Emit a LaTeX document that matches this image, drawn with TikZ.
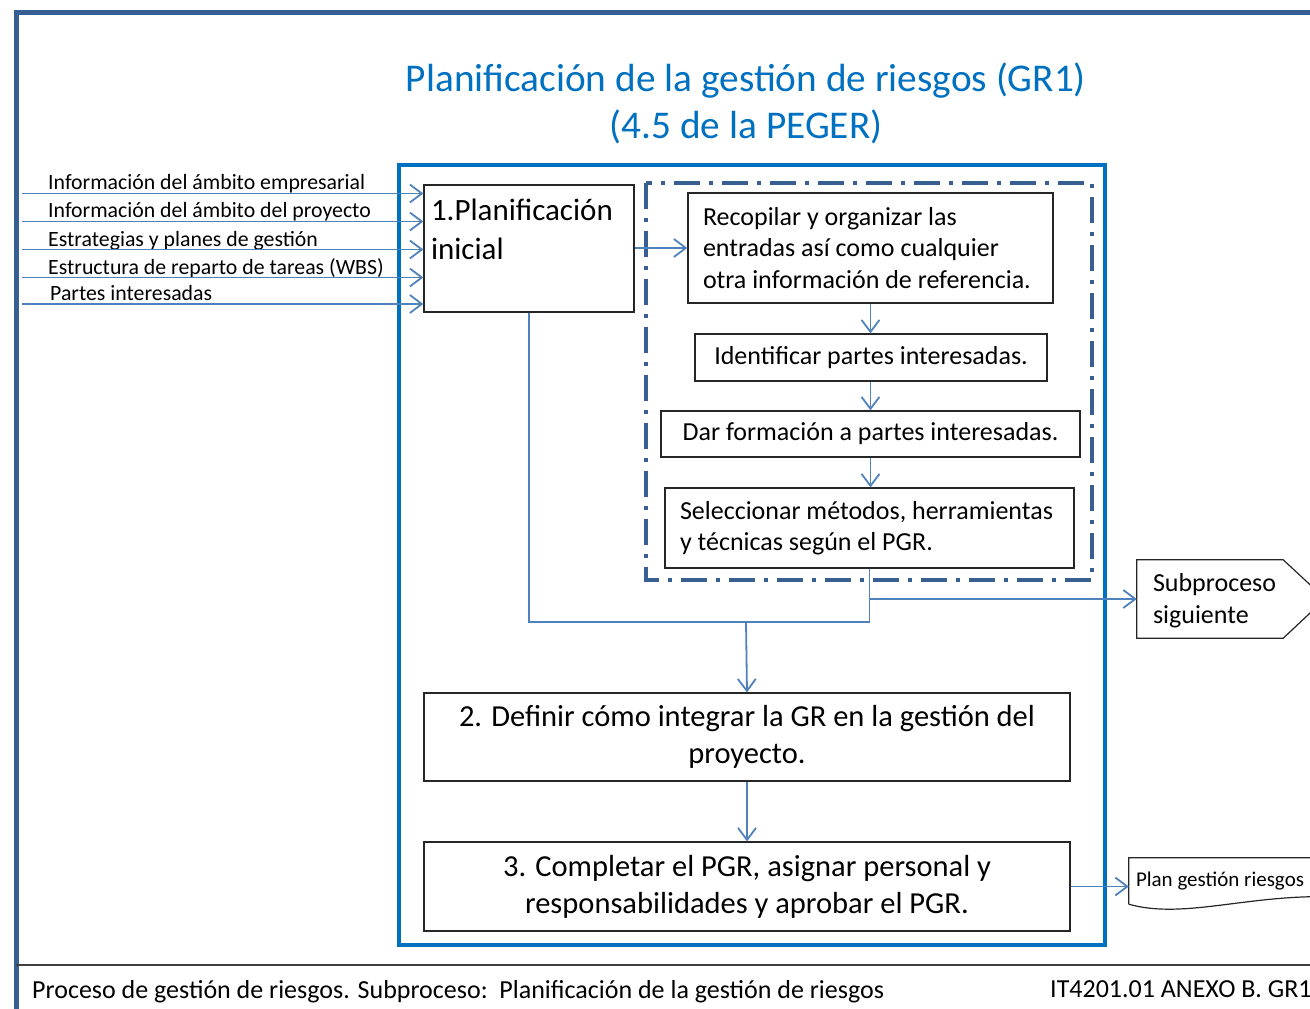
\documentclass[tikz,border=0pt]{standalone}
\usepackage{fontspec}
\setmainfont{Carlito}
\usetikzlibrary{arrows.meta}
\definecolor{framecol}{HTML}{375F92}
\definecolor{boxblue}{HTML}{0070C0}
\definecolor{linkcol}{HTML}{4F81BD}

\begin{document}
\begin{tikzpicture}[x=1pt,y=-1pt,
    >={Straight Barb[length=12pt,width=18pt]},
    box/.style={draw=black!85,line width=1.2pt,inner sep=0pt},
    link/.style={draw=linkcol,line width=1.8pt},
    inlabel/.style={anchor=base west,inner sep=0pt,font=\fontsize{21.8}{24}\selectfont},
    stepbox/.style={box,font=\fontsize{26}{31.5}\selectfont},
    bigbox/.style={box,font=\fontsize{30.5}{37}\selectfont}]
    \useasboundingbox (0,0) rectangle (1310,1009);

    \draw[framecol,line width=5pt] (16,1012) -- (16,12) -- (1315,12);
    \draw[black!75,line width=2.5pt] (16,965) -- (1315,965);

    \node[text=boxblue,align=center,font=\fontsize{39.3}{47}\selectfont] (title) at (746,103)
        {Planificación de la gestión de riesgos (GR1)\\(4.5 de la PEGER)};

    \draw[boxblue,line width=4pt] (399,165) rectangle (1105,945);
    \draw[framecol,line width=4pt,dash pattern=on 26pt off 9pt on 4pt off 9pt] (646,183) rectangle (1092,580);

    \node[box,font=\fontsize{31}{39}\selectfont,minimum width=210,minimum height=127,
        text width=196,align=flush left] (box1) at (529,248.5)
        {1.Planificación\\inicial\\ \mbox{}};

    \node[stepbox,minimum width=365,minimum height=110,inner xsep=15,text width=335,align=flush left] (rec) at (870.5,248)
        {Recopilar y organizar las\\entradas así como cualquier\\otra información de referencia.};
    \node[stepbox,minimum width=352,minimum height=47] (ide) at (871,357.5) {Identificar partes interesadas.};
    \node[stepbox,minimum width=419,minimum height=46] (dar) at (870.5,434) {Dar formación a partes interesadas.};
    \node[stepbox,minimum width=409,minimum height=80,inner xsep=15,text width=379,align=flush left] (sel) at (869.5,528)
        {Seleccionar métodos, herramientas\\y técnicas según el PGR.};

    \node[bigbox,minimum width=646,minimum height=88,text width=630,align=flush center] (box2) at (747,737)
        {2. Definir cómo integrar la GR en la gestión del\\proyecto.};
    \node[bigbox,minimum width=646,minimum height=89,text width=630,align=flush center] (box3) at (747,886.5)
        {3. Completar el PGR, asignar personal y\\responsabilidades y aprobar el PGR.};

    \node[inner sep=0pt,minimum width=146,minimum height=78,text width=114,align=flush left,
        font=\fontsize{26}{32}\selectfont] (sub) at (1210,599) {\strut Subproceso\\siguiente};
    \draw[black!85,line width=1.2pt] (sub.north west) -- (sub.north east) -- ++(42,39)
        -- (sub.south east) -- (sub.south west) -- cycle;

    \node[inner sep=0pt,inner xsep=7,minimum height=46,text width=200,align=flush left,
        font=\fontsize{21}{24}\selectfont] (plan) at (1236,881) {Plan gestión riesgos};
    \draw[black!85,line width=1.2pt] (plan.south west) -- (plan.north west) -- (plan.north east)
        (plan.south west) .. controls (1185,920) and (1250,893) .. (1340,897);

    \node[inlabel] (l1) at (48,189) {Información del ámbito empresarial};
    \node[inlabel] (l2) at (48,217) {Información del ámbito del proyecto};
    \node[inlabel] (l3) at (48,246) {Estrategias y planes de gestión};
    \node[inlabel] (l4) at (48,274) {Estructura de reparto de tareas (WBS)};
    \node[inlabel] (l5) at (50,300) {Partes interesadas};

    \coordinate (i1) at (22,193.5);
    \coordinate (i2) at (22,221.5);
    \coordinate (i3) at (22,249.5);
    \coordinate (i4) at (22,277.5);
    \coordinate (i5) at (22,304);
    \foreach \i in {1,...,5}
        \draw[link,->] (i\i) -- (i\i -| box1.west);

    \draw[link,->] (box1.east |- rec.west) -- (rec.west);
    \draw[link,->] (rec.south) -- (rec.south |- ide.north);
    \draw[link,->] (rec.south |- ide.south) -- (rec.south |- dar.north);
    \draw[link,->] (rec.south |- dar.south) -- (rec.south |- sel.north);

    \coordinate (join) at (746,622);
    \draw[link] (box1.south) |- (sel.south |- join) -- (sel.south);
    \draw[link,->] (join) -- (box2.north);
    \draw[link,->] (sel.south |- sub.west) -- (sub.west);
    \draw[link,->] (box2.south) -- (box3.north);
    \draw[link,->] (box3.east) -- (box3.east -| plan.west);

    \node[anchor=base west,inner sep=0pt,font=\fontsize{26}{30}\selectfont] (foot) at (32,998)
        {Proceso de gestión de riesgos. Subproceso:\ \ Planificación de la gestión de riesgos};
    \node[anchor=base west,inner sep=0pt,font=\fontsize{26}{30}\selectfont] (code) at (1050,997)
        {IT4201.01 ANEXO B. GR1};
\end{tikzpicture}
\end{document}
